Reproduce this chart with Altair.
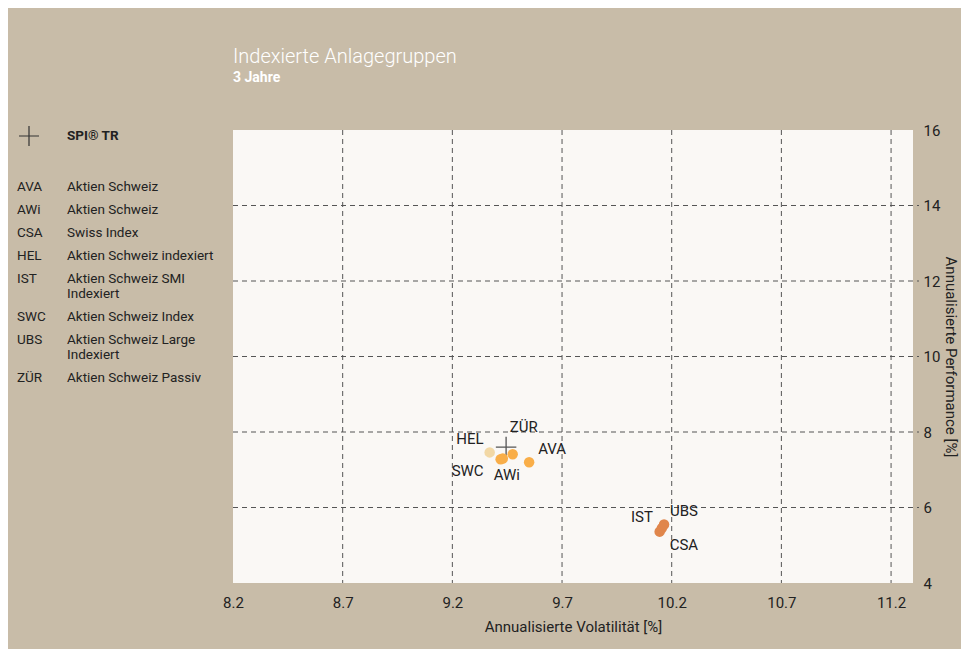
import altair as alt
import pandas as pd

# ---- data ----
codes = ["AVA", "AWi", "CSA", "HEL", "IST", "SWC", "UBS", "ZÜR"]
names = ["Aktien Schweiz", "Aktien Schweiz", "Swiss Index", "Aktien Schweiz indexiert",
         "Aktien Schweiz SMI\nIndexiert", "Aktien Schweiz Index",
         "Aktien Schweiz Large\nIndexiert", "Aktien Schweiz Passiv"]
volatility = [9.55, 9.43, 10.145, 9.37, 10.155, 9.42, 10.165, 9.475]
performance = [7.20, 7.30, 5.36, 7.46, 5.45, 7.28, 5.55, 7.41]
shade = ["mid", "mid", "dark", "light", "dark", "mid", "dark", "mid"]

spi_label = ["SPI® TR"]
spi_vol = [9.445]
spi_perf = [7.60]

x_ticks = [8.2, 8.7, 9.2, 9.7, 10.2, 10.7, 11.2]
y_ticks = [4, 6, 8, 10, 12, 14, 16]
x_grid = [8.7, 9.2, 9.7, 10.2, 10.7, 11.2]
y_grid = [6, 8, 10, 12, 14]

FONT = "Roboto"
TXT = "#222222"
BG = "#c8bca8"

df = pd.DataFrame({"code": codes, "name": names, "vol": volatility,
                   "perf": performance, "shade": shade})
spi = pd.DataFrame({"label": spi_label, "vol": spi_vol, "perf": spi_perf})

xs = alt.Scale(domain=[8.2, 11.3], nice=False, zero=False)
ys = alt.Scale(domain=[4, 16], nice=False, zero=False)

xgrid = alt.Chart(pd.DataFrame({"v": x_grid})).mark_rule(
    color="#555555", strokeDash=[5, 4], strokeWidth=1
).encode(x=alt.X("v:Q", scale=xs,
                 axis=alt.Axis(values=x_ticks, format=".1f", grid=False, ticks=False,
                               domain=False, labelFontSize=15, labelColor=TXT,
                               labelFont=FONT, labelPadding=12, labelFlush=False,
                               title="Annualisierte Volatilität [%]", titleFont=FONT,
                               titleFontSize=15, titleFontWeight="normal",
                               titleColor=TXT, titlePadding=9)))

ygrid = alt.Chart(pd.DataFrame({"v": y_grid})).mark_rule(
    color="#555555", strokeDash=[5, 4], strokeWidth=1
).encode(
    y=alt.Y("v:Q", scale=ys,
            axis=alt.Axis(orient="right", values=y_ticks, grid=False, ticks=False,
                          domain=False, labelFontSize=15, labelColor=TXT,
                          labelFont=FONT, labelPadding=10, labelFlush=False,
                          title="Annualisierte Performance [%]", titleFont=FONT,
                          titleFontSize=15, titleFontWeight="normal",
                          titleColor=TXT, titlePadding=3)),
    x=alt.value(0), x2=alt.value(686),
)

cross_path = "M-1,0H1M0,-1V1"

spi_mark = alt.Chart(spi).mark_point(
    shape=cross_path, size=420, filled=False, stroke="#555555", strokeWidth=1.3, opacity=1
).encode(x=alt.X("vol:Q", scale=xs), y=alt.Y("perf:Q", scale=ys))

points = alt.Chart(df).mark_circle(size=110, opacity=1).encode(
    x=alt.X("vol:Q", scale=xs),
    y=alt.Y("perf:Q", scale=ys),
    color=alt.Color("shade:N",
                    scale=alt.Scale(domain=["light", "mid", "dark"],
                                    range=["#f2d8a5", "#f9ae48", "#e0864b"]),
                    legend=None),
)

label_style = {
    "HEL": dict(align="right", dx=-6, dy=-13),
    "ZÜR": dict(align="left", dx=-3, dy=-27),
    "AVA": dict(align="left", dx=9, dy=-13),
    "SWC": dict(align="right", dx=-17, dy=12),
    "AWi": dict(align="center", dx=4, dy=17),
    "IST": dict(align="right", dx=-9, dy=-11),
    "UBS": dict(align="left", dx=6, dy=-13),
    "CSA": dict(align="left", dx=10, dy=13),
}

label_layers = []
for c in codes:
    st = label_style[c]
    label_layers.append(
        alt.Chart(df).transform_filter(alt.datum.code == c).mark_text(
            font=FONT, fontSize=15, color=TXT, baseline="middle", **st
        ).encode(x=alt.X("vol:Q", scale=xs), y=alt.Y("perf:Q", scale=ys), text="code:N")
    )

main = alt.layer(xgrid, ygrid, spi_mark, points, *label_layers)

# ---- left-hand key (layout only) ----
row_y = []
y = 57
for n in names:
    lines = n.count("\n") + 1
    row_y.append(y)
    y += 23 + (lines - 1) * 15
key = pd.DataFrame({"code": codes, "name": names, "ly": row_y})

key_codes = alt.Chart(key).mark_text(
    font=FONT, fontSize=13.5, color=TXT, align="left", baseline="middle"
).encode(x=alt.value(-216), y=alt.Y("ly:Q", scale=None, axis=None), text="code:N")

key_names = alt.Chart(key).mark_text(
    font=FONT, fontSize=13.5, color=TXT, align="left", baseline="middle", lineBreak="\n",
    lineHeight=15
).encode(x=alt.value(-166), y=alt.Y("ly:Q", scale=None, axis=None), text="name:N")

key_spi_text = alt.Chart(spi).mark_text(
    font=FONT, fontSize=13.5, fontWeight="bold", color=TXT, align="left", baseline="middle"
).encode(x=alt.value(-166), y=alt.value(6), text="label:N")

key_spi_cross = alt.Chart(spi).mark_point(
    shape=cross_path, size=400, filled=False, stroke="#333333", strokeWidth=1.2, opacity=1
).encode(x=alt.value(-204), y=alt.value(6))

key_layer = alt.layer(key_codes, key_names, key_spi_text, key_spi_cross)

chart = alt.layer(main, key_layer).resolve_scale(y="independent").properties(
    width=680, height=453,
    autosize=alt.AutoSizeParams(type="none"),
    padding={"left": 225, "top": 122, "right": 48, "bottom": 66},
    background=BG,
    title=alt.TitleParams(
        text="Indexierte Anlagegruppen", subtitle="3 Jahre",
        anchor="start", frame="group", offset=38,
        font=FONT, fontSize=20, fontWeight=300, color="white",
        subtitleFont=FONT, subtitleFontSize=14, subtitleFontWeight="bold",
        subtitleColor="white", subtitlePadding=4,
    ),
).configure_view(fill="#faf8f5", stroke=None)

chart.save("out.html", embed_options={"renderer": "svg", "actions": False})
